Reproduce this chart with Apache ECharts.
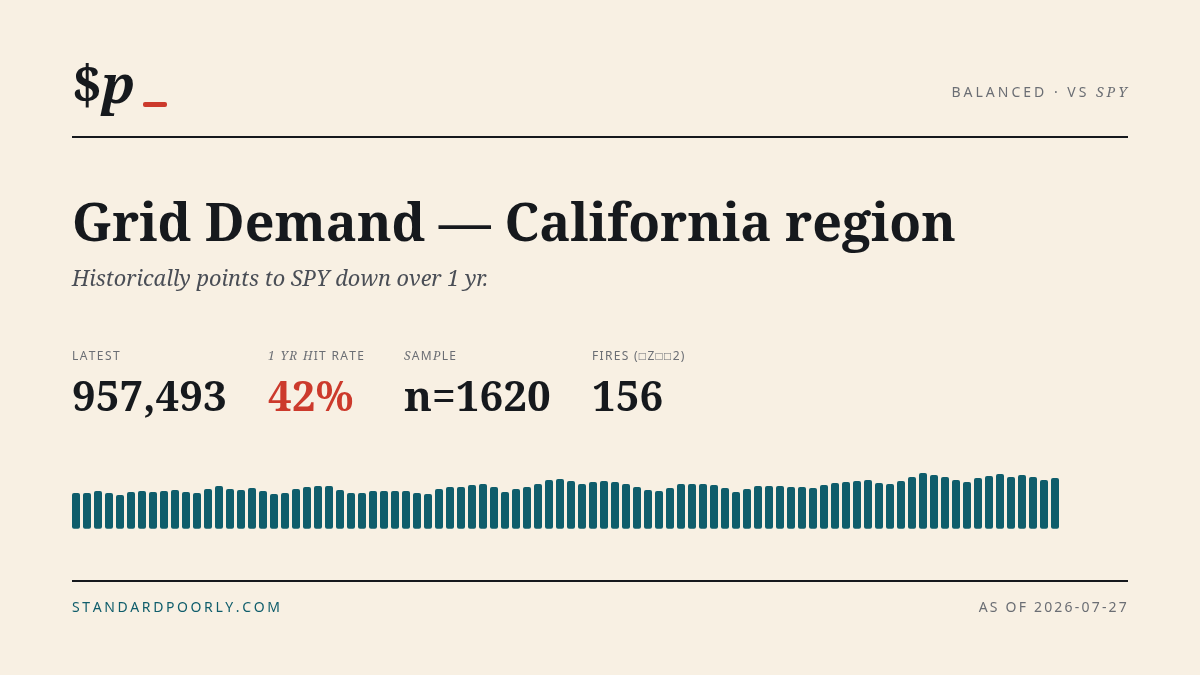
<!DOCTYPE html>
<html>
<head>
<meta charset="utf-8">
<script src="https://cdn.jsdelivr.net/npm/echarts@6/dist/echarts.min.js"></script>
<style>
  html, body { margin: 0; padding: 0; background: #f8f0e3; }
  #main { width: 1200px; height: 675px; }
</style>
</head>
<body>
<div id="main"></div>
<script>
var chartDom = document.getElementById('main');
var myChart = echarts.init(chartDom);
var option;

// daily demand index
var demand = [
  107, 107, 113, 107, 101, 110, 113, 110, 113, 116,
  110, 107, 119, 128, 119, 116, 122, 113, 104, 107,
  119, 125, 128, 128, 116, 107, 107, 113, 113, 113,
  113, 107, 104, 119, 125, 125, 131, 134, 125, 110,
  119, 125, 134, 146, 149, 143, 134, 140, 143, 140,
  134, 125, 116, 113, 122, 134, 134, 134, 131, 122,
  110, 119, 128, 128, 128, 125, 125, 122, 131, 137,
  140, 143, 146, 137, 134, 143, 155, 167, 161, 155,
  146, 140, 152, 158, 164, 155, 161, 155, 146, 152
];
var days = demand.map(function (v, i) { return 'd' + (i + 1); });

var statValues = ['957,493', '42%', 'n=1620', '156'];

var serif = "'Noto Serif', 'DejaVu Serif', serif";
var sans = "'Noto Sans', 'Open Sans', sans-serif";
var ink = '#16191d';
var grey = '#6b6e74';
var teal = '#0f5d6b';
var red = '#cc3a2c';

// letter-spaced rich text: parts is a list of [styleName, text]
function tracked(parts) {
  var out = '';
  parts.forEach(function (p) {
    for (var i = 0; i < p[1].length; i++) {
      out += '{' + p[0] + '|' + p[1][i] + '}{g| }';
    }
  });
  return out;
}
function gapStyle(px) {
  // a space in Noto Sans is ~0.26em
  return { fontFamily: sans, fontSize: px / 0.26 };
}

option = {
  backgroundColor: '#f8f0e3',
  animation: false,
  grid: {
    left: 70.5,
    width: 990,
    top: 468.7,
    bottom: 146.3
  },
  xAxis: {
    type: 'category',
    data: days,
    show: false
  },
  yAxis: {
    type: 'value',
    min: 0,
    max: 180,
    show: false
  },
  series: [
    {
      type: 'bar',
      data: demand,
      barWidth: 8,
      itemStyle: {
        color: teal,
        borderRadius: 2
      }
    }
  ],
  graphic: [
    {
      type: 'text',
      left: 72,
      top: 61,
      style: {
        text: '{d|$}{p|p}',
        rich: {
          d: { fontFamily: serif, fontWeight: 'bold', fontSize: 53, fill: ink },
          p: { fontFamily: serif, fontWeight: 'bold', fontStyle: 'italic', fontSize: 53, fill: ink }
        }
      }
    },
    {
      type: 'rect',
      shape: { x: 143, y: 102, width: 24, height: 5, r: 2 },
      style: { fill: red }
    },
    {
      type: 'text',
      right: 70,
      top: 86,
      style: {
        text: tracked([['a', 'BALANCED · VS '], ['b', 'SPY']]),
        rich: {
          a: { fontFamily: sans, fontSize: 14, fill: grey },
          b: { fontFamily: serif, fontStyle: 'italic', fontSize: 14, fill: grey },
          g: gapStyle(3)
        }
      }
    },
    {
      type: 'rect',
      shape: { x: 72, y: 136, width: 1056, height: 2 },
      style: { fill: ink }
    },
    {
      type: 'text',
      left: 72,
      top: 200,
      style: {
        text: 'Grid Demand — California region',
        fontFamily: serif,
        fontWeight: 'bold',
        fontSize: 52,
        fill: ink
      }
    },
    {
      type: 'text',
      left: 72,
      top: 269,
      style: {
        text: 'Historically points to SPY down over 1 yr.',
        fontFamily: serif,
        fontStyle: 'italic',
        fontSize: 21.7,
        fill: '#4a4e56'
      }
    },
    {
      type: 'text',
      left: 72,
      top: 351,
      style: {
        text: tracked([['s', 'LATEST']]),
        rich: { s: { fontFamily: sans, fontSize: 12, fill: grey }, g: gapStyle(1.4) }
      }
    },
    {
      type: 'text',
      left: 268,
      top: 351,
      style: {
        text: tracked([['i', '1 YR H'], ['s', 'IT RATE']]),
        rich: {
          i: { fontFamily: serif, fontStyle: 'italic', fontSize: 12, fill: grey },
          s: { fontFamily: sans, fontSize: 12, fill: grey },
          g: gapStyle(1.3)
        }
      }
    },
    {
      type: 'text',
      left: 404,
      top: 351,
      style: {
        text: tracked([['i', 'S'], ['s', 'AM'], ['i', 'P'], ['s', 'LE']]),
        rich: {
          i: { fontFamily: serif, fontStyle: 'italic', fontSize: 12, fill: grey },
          s: { fontFamily: sans, fontSize: 12, fill: grey },
          g: gapStyle(1.3)
        }
      }
    },
    {
      type: 'text',
      left: 592,
      top: 351,
      style: {
        text: tracked([['s', 'FIRES (□Z□□2)']]),
        rich: { s: { fontFamily: sans, fontSize: 12, fill: grey }, g: gapStyle(1.3) }
      }
    },
    {
      type: 'text',
      left: 72,
      top: 378,
      style: { text: statValues[0], fontFamily: serif, fontWeight: 'bold', fontSize: 42, fill: ink }
    },
    {
      type: 'text',
      left: 268,
      top: 378,
      style: { text: statValues[1], fontFamily: serif, fontWeight: 'bold', fontSize: 42, fill: red }
    },
    {
      type: 'text',
      left: 404,
      top: 378,
      style: { text: statValues[2], fontFamily: serif, fontWeight: 'bold', fontSize: 42, fill: ink }
    },
    {
      type: 'text',
      left: 592,
      top: 378,
      style: { text: statValues[3], fontFamily: serif, fontWeight: 'bold', fontSize: 42, fill: ink }
    },
    {
      type: 'rect',
      shape: { x: 72, y: 580, width: 1056, height: 2 },
      style: { fill: ink }
    },
    {
      type: 'text',
      left: 72,
      top: 601,
      style: {
        text: tracked([['s', 'STANDARDPOORLY.COM']]),
        rich: { s: { fontFamily: sans, fontSize: 14, fill: teal }, g: gapStyle(2.6) }
      }
    },
    {
      type: 'text',
      right: 71,
      top: 601,
      style: {
        text: tracked([['s', 'AS OF 2026-07-27']]),
        rich: { s: { fontFamily: sans, fontSize: 14, fill: grey }, g: gapStyle(2.2) }
      }
    }
  ]
};

myChart.setOption(option);
</script>
</body>
</html>
